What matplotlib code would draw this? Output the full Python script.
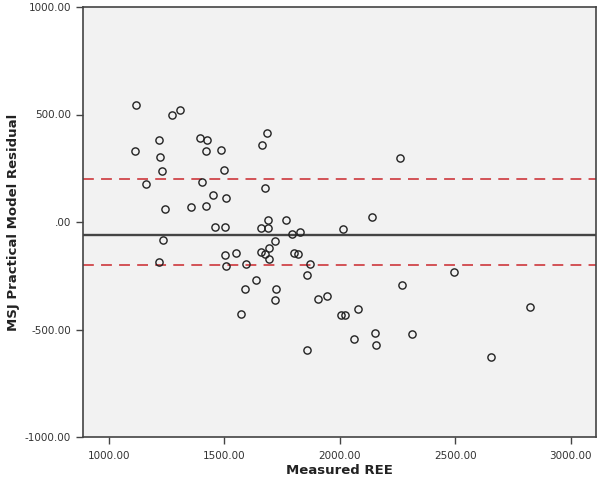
import matplotlib
matplotlib.use('Agg')
import matplotlib.pyplot as plt
from matplotlib.ticker import FuncFormatter

# Measured REE vs residual of the MSJ practical model
measured_ree = [1116, 1275, 1310, 1115, 1216, 1222, 1229, 1162, 1243, 1394,
                1424, 1421, 1486, 1499, 1405, 1450, 1508, 1356, 1420, 1683,
                1663, 1678, 1689, 1459, 1502, 1660, 1689, 1235, 1217, 1503,
                1551, 1508, 1593, 1658, 1677, 1693, 1693, 1719, 1638, 1589,
                1726, 1719, 1573, 2259, 1767, 2138, 2016, 1795, 1827, 1800,
                1819, 1872, 1860, 1906, 1943, 2007, 2022, 2079, 2060, 2154,
                2155, 1859, 2268, 2313, 2495, 2822, 2654]
residual = [546, 496, 521, 332, 380, 304, 239, 175, 62, 392,
            381, 329, 335, 242, 187, 127, 110, 71, 76, 414,
            357, 157, 11, -23, -23, -26, -26, -84, -185, -152,
            -144, -205, -197, -141, -147, -121, -172, -90, -270, -313,
            -312, -363, -428, 298, 9, 23, -33, -57, -48, -144,
            -150, -194, -247, -357, -343, -434, -431, -405, -543, -515,
            -574, -595, -294, -521, -231, -395, -629]

mean_line = -60
limit_lines = [200, -200]

x_ticks = [1000, 1500, 2000, 2500, 3000]
y_ticks = [-1000, -500, 0, 500, 1000]


def fmt(v, pos):
    s = '%.2f' % v
    if s.startswith('0.'):
        s = s[1:]
    return s


fig = plt.figure(figsize=(6.01, 4.83), dpi=100, facecolor='white')
ax = fig.add_axes([83 / 601, 1 - 437 / 483, (596 - 83) / 601, (437 - 7) / 483])
ax.set_facecolor('#f2f2f2')

ax.axhline(mean_line, color='#444444', linewidth=1.7, zorder=2)
for v in limit_lines:
    ax.axhline(v, color='#d0464a', linewidth=1.3, linestyle=(0, (6, 4)), zorder=2)

ax.plot(measured_ree, residual, linestyle='none', marker='o', markersize=5.2,
        markerfacecolor='none', markeredgecolor='#222222', markeredgewidth=1.0, zorder=3)

ax.set_xlim(888, 3110)
ax.set_ylim(-1000, 1000)
ax.set_xticks(x_ticks)
ax.set_yticks(y_ticks)
ax.xaxis.set_major_formatter(FuncFormatter(fmt))
ax.yaxis.set_major_formatter(FuncFormatter(fmt))
ax.tick_params(direction='out', length=5, width=1, colors='#444444', labelsize=7.5, labelcolor='#333333')
ax.tick_params(axis='x', pad=5)

for s in ax.spines.values():
    s.set_color('#444444')
    s.set_linewidth(1.2)

ax.set_xlabel('Measured REE', fontsize=9.5, fontweight='bold', color='#222222')
ax.set_ylabel('MSJ Practical Model Residual', fontsize=9.5, fontweight='bold', color='#222222')
ax.xaxis.set_label_coords(0.5, -0.063)
ax.yaxis.set_label_coords(-0.122, 0.5)

plt.savefig('out.png', dpi=100, facecolor='white')
